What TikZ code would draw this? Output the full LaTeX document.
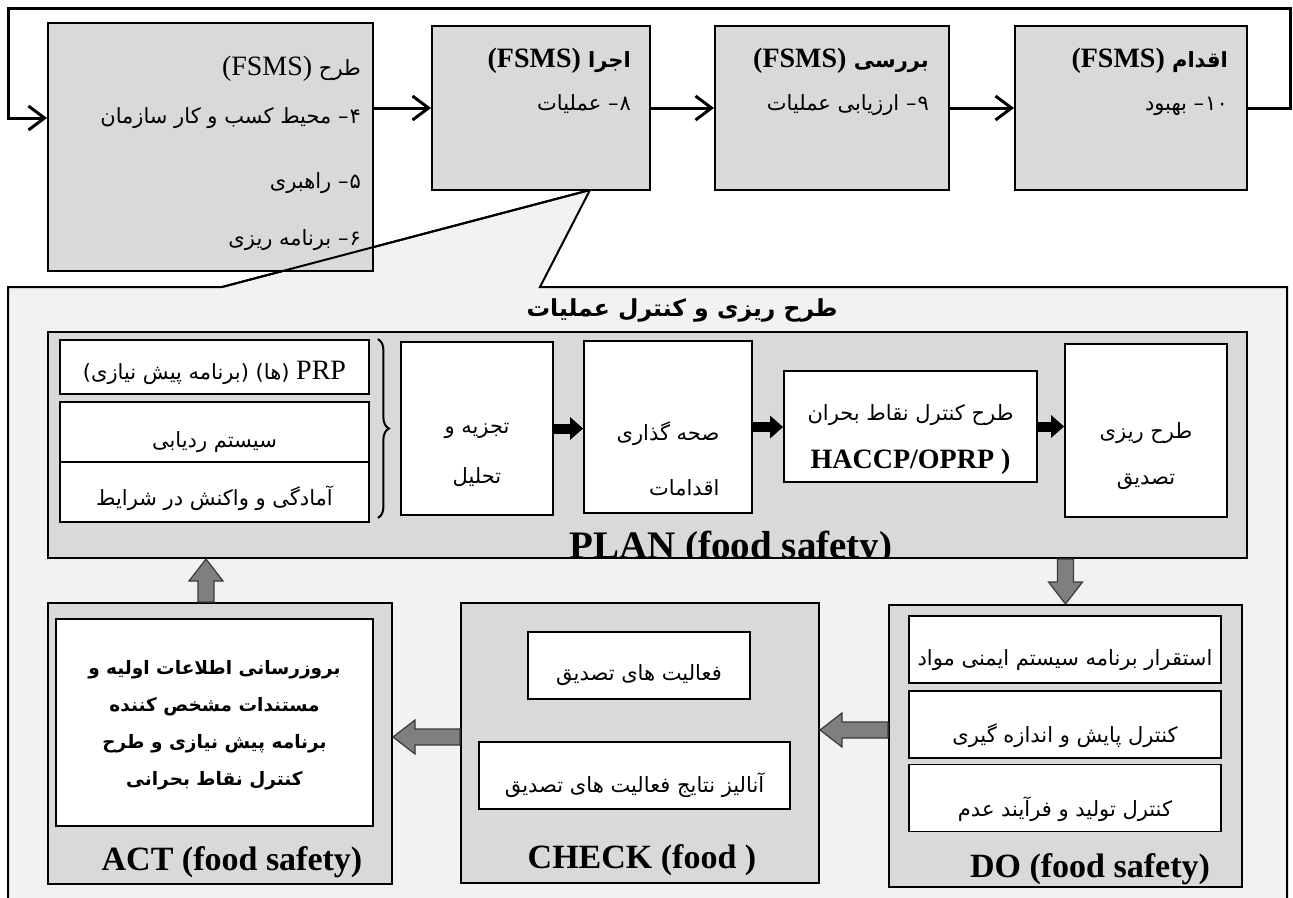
\documentclass[tikz,border=0pt]{standalone}
\usepackage{fontspec}
\setmainfont{Liberation Serif}
\newfontfamily\arabicfont[Script=Arabic]{DejaVu Sans}
\TeXXeTstate=1
\usetikzlibrary{arrows.meta, positioning, calc, decorations.pathreplacing}

\definecolor{boxgray}{HTML}{D9D9D9}
\definecolor{zoomgray}{HTML}{F2F2F2}
\definecolor{arrowgray}{HTML}{7F7F7F}
\definecolor{arrowedge}{HTML}{3A3A3A}

\newcommand{\fa}[1]{{\arabicfont\beginR#1\endR}}
\newcommand{\la}[1]{\beginL{\rmfamily\fontsize{28pt}{28pt}\selectfont#1}\endL}
\newcommand{\numdash}[1]{#1\kern1pt–}
\newcommand{\down}[2][10pt]{\raisebox{-#1}[\height][\depth]{#2}}

\begin{document}
\begin{tikzpicture}[x=1pt, y=-1pt,
  box/.style={draw, line width=2pt, fill=boxgray, inner sep=0pt},
  card/.style={draw, line width=1.8pt, fill=white, inner sep=0pt, align=center,
    font=\fontsize{21pt}{50pt}\selectfont},
  fatext/.style={inner sep=0pt, align=right, font=\fontsize{21pt}{43pt}\selectfont},
  phaselabel/.style={inner sep=0pt, anchor=base, font=\bfseries\fontsize{34pt}{40pt}\selectfont},
  flow/.style={-{Straight Barb[length=16pt,width=24pt]}, line width=3pt},
  fatarrow/.style={-{Triangle[length=13pt,width=22pt]}, line width=10pt},
  blockarrow/.style={draw=arrowedge, line width=1.2pt, fill=arrowgray, to path={
    ($(\tikztostart)!8pt!90:(\tikztotarget)$)
    -- ($($(\tikztotarget)!22pt!(\tikztostart)$)!8pt!-90:(\tikztostart)$)
    -- ($($(\tikztotarget)!22pt!(\tikztostart)$)!17pt!-90:(\tikztostart)$)
    -- (\tikztotarget)
    -- ($($(\tikztotarget)!22pt!(\tikztostart)$)!17pt!90:(\tikztostart)$)
    -- ($($(\tikztotarget)!22pt!(\tikztostart)$)!8pt!90:(\tikztostart)$)
    -- ($(\tikztostart)!8pt!-90:(\tikztotarget)$)
    -- cycle}},
  brace/.style={decorate, decoration={brace, amplitude=11pt}, line width=2pt}
]
\useasboundingbox (0,0) rectangle (1293,897);

% callout of the operation step
\coordinate (zoomtip) at (590,190);
\filldraw[fill=zoomgray, line width=2pt] (8,287) -- (222,287) -- (zoomtip) -- (540,287)
  -- (1287,287) -- (1287,910) -- (8,910) -- cycle;

% FSMS cycle
\node[box, minimum width=325pt, minimum height=248pt] (fsmsplan) at (210.5,147) {};
\node[box, minimum width=218pt, minimum height=164pt] (fsmsdo) at (541,108) {};
\node[box, minimum width=234pt, minimum height=164pt] (fsmscheck) at (832,108) {};
\node[box, minimum width=232pt, minimum height=164pt] (fsmsact) at (1131,108) {};
\draw[line width=2pt] (222,287) -- (zoomtip);

\node[fatext, anchor=north east, font=\fontsize{21pt}{57pt}\selectfont] (fsmsplantext)
  at ([xshift=-13pt,yshift=-34pt]fsmsplan.north east)
  {\fa{طرح \la{(FSMS)}}\\[-9pt]\fa{\numdash{۴} محیط کسب و کار سازمان}\\[8pt]
   \fa{\numdash{۵} راهبری}\\\fa{\numdash{۶} برنامه ریزی}};
\node[fatext, anchor=north east] (fsmsdotext) at ([xshift=-20pt,yshift=-23pt]fsmsdo.north east)
  {{\bfseries\fa{اجرا \la{(FSMS)}}}\\\fa{\numdash{۸} عملیات}};
\node[fatext, anchor=north east] (fsmschecktext) at ([xshift=-21pt,yshift=-23pt]fsmscheck.north east)
  {{\bfseries\fa{بررسی \la{(FSMS)}}}\\\fa{\numdash{۹} ارزیابی عملیات}};
\node[fatext, anchor=north east] (fsmsacttext) at ([xshift=-20pt,yshift=-23pt]fsmsact.north east)
  {{\bfseries\fa{اقدام \la{(FSMS)}}}\\\fa{\numdash{۱۰} بهبود}};

\draw[flow] (fsmsplan.east |- fsmsdo.west) -- (fsmsdo.west);
\draw[flow] (fsmsdo.east) -- (fsmscheck.west);
\draw[flow] (fsmscheck.east) -- (fsmsact.west);
\coordinate (loopin) at (8,118);
\draw[flow] (fsmsact.east) -| (1290,8) -| (loopin) -- (loopin -| fsmsplan.west);

\node[font=\bfseries\fontsize{23.5pt}{30pt}\selectfont] (opstitle) at (682,310)
  {\fa{طرح ریزی و کنترل عملیات}};

% PLAN
\node[box, minimum width=1199pt, minimum height=226pt, path picture={
  \node[phaselabel, font=\bfseries\fontsize{39pt}{44pt}\selectfont]
    at ([xshift=83.5pt]path picture bounding box.south) {PLAN (food safety)};}]
  (plan) at (647.5,445) {};

\node[card, minimum width=309pt, minimum height=54pt] (prp) at (214.5,367)
  {\down[6pt]{\fa{\la{PRP} (ها) (برنامه پیش نیازی)}}};
\node[card, minimum width=309pt, minimum height=60pt] (trace) at (214.5,432) {\down{\fa{سیستم ردیابی}}};
\node[card, minimum width=309pt, minimum height=60pt] (emerg) at (214.5,492) {\down[6pt]{\fa{آمادگی و واکنش در شرایط}}};
\draw[brace] ([xshift=8pt]prp.north east) -- ([xshift=8pt,yshift=5pt]emerg.south east);

\node[card, minimum width=152pt, minimum height=173pt] (analysis) at (477,428.5)
  {\down[26pt]{\fa{تجزیه و}}\\\down[26pt]{\fa{تحلیل}}};
\node[card, minimum width=168pt, minimum height=172pt, align=right,
  font=\fontsize{21pt}{55pt}\selectfont] (validation) at (668,427)
  {\down[32pt]{\fa{صحه گذاری}}\\\down[32pt]{\fa{اقدامات}}};
\node[card, minimum width=253pt, minimum height=111pt, font=\fontsize{21pt}{48pt}\selectfont]
  (haccp) at (910.5,426.5)
  {\down[13pt]{\fa{طرح کنترل نقاط بحران}}\\
   \down[13pt]{\bfseries\fontsize{28pt}{30pt}\selectfont HACCP/OPRP )}};
\node[card, minimum width=162pt, minimum height=173pt, font=\fontsize{21pt}{46pt}\selectfont]
  (verifplan) at (1146,430.5) {\down[26pt]{\fa{طرح ریزی}}\\\down[26pt]{\fa{تصدیق}}};

\draw[fatarrow] (analysis.east) -- (analysis.east -| validation.west);
\draw[fatarrow] (validation.east) -- (validation.east -| haccp.west);
\draw[fatarrow] (haccp.east) -- (haccp.east -| verifplan.west);

% ACT
\node[box, minimum width=344pt, minimum height=281pt] (actphase) at (220,743.5) {};
\node[card, minimum width=317pt, minimum height=207pt, font=\bfseries\fontsize{18.5pt}{37pt}\selectfont]
  (actnote) at (214.5,722.5)
  {\down[3pt]{\fa{بروزرسانی اطلاعات اولیه و}}\\\down[3pt]{\fa{مستندات مشخص کننده}}\\
   \down[3pt]{\fa{برنامه پیش نیازی و طرح}}\\\down[3pt]{\fa{کنترل نقاط بحرانی}}};
\node[phaselabel] (actlabel) at (232,870) {ACT (food safety)};

% CHECK
\node[box, minimum width=358pt, minimum height=280pt] (checkphase) at (640,743) {};
\node[card, minimum width=222pt, minimum height=67pt] (verifact) at (639,665.5) {\down{\fa{فعالیت های تصدیق}}};
\node[card, minimum width=311pt, minimum height=67pt] (verifanalysis) at (634.5,775.5)
  {\down{\fa{آنالیز نتایج فعالیت های تصدیق}}};
\node[phaselabel] (checklabel) at (642,868) {CHECK (food )};

% DO
\node[box, minimum width=353pt, minimum height=282pt] (dophase) at (1065.5,746) {};
\node[card, minimum width=312pt, minimum height=67pt] (doimpl) at (1065,649.5) {\down[11pt]{\fa{استقرار برنامه سیستم ایمنی مواد}}};
\node[card, minimum width=312pt, minimum height=67pt] (domonitor) at (1065,724.5) {\down[11pt]{\fa{کنترل پایش و اندازه گیری}}};
\node[card, minimum width=312pt, minimum height=67pt] (doproduct) at (1065,798) {\down[11pt]{\fa{کنترل تولید و فرآیند عدم}}};
\node[phaselabel] (dolabel) at (1090,877) {DO (food safety)};

% phase transitions
\coordinate (docheck) at ([yshift=16pt]dophase.west);
\coordinate (checkact) at ([yshift=6pt]checkphase.west);
\coordinate (actplan) at ([xshift=-14pt]actphase.north);
\draw[blockarrow] (dophase.north |- plan.south) to (dophase.north);
\draw[blockarrow] (docheck) to (docheck -| checkphase.east);
\draw[blockarrow] (checkact) to (checkact -| actphase.east);
\draw[blockarrow] (actplan) to (actplan |- plan.south);
\end{tikzpicture}
\end{document}
